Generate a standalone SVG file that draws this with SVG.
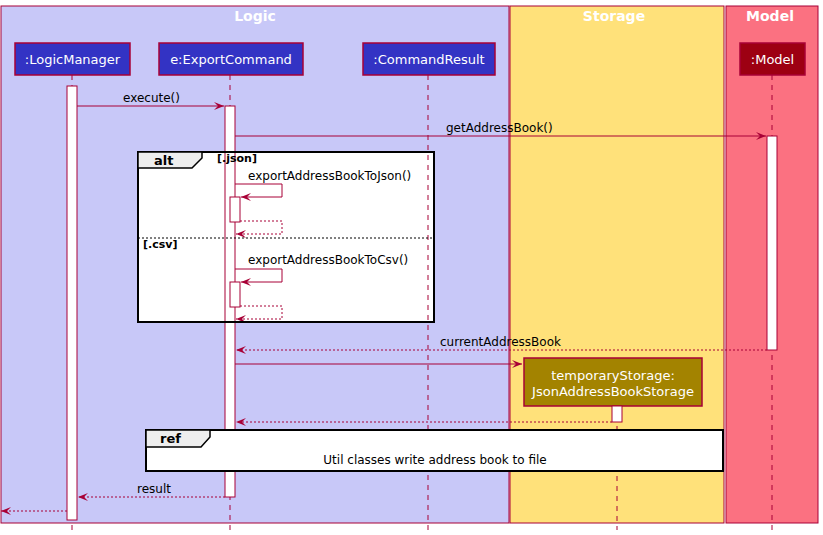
<svg xmlns="http://www.w3.org/2000/svg" width="823" height="535" viewBox="0 0 823 535">
<style>
text{font-family:"DejaVu Sans","Liberation Sans",sans-serif;}
.title{font-size:14px;font-weight:bold;fill:#ffffff;text-anchor:middle;}
.plabel{font-size:13px;fill:#ffffff;text-anchor:middle;}
.msg{font-size:12px;fill:#000000;}
.life{stroke:#A80036;stroke-width:1;stroke-dasharray:5,5;fill:none;}
.act{fill:#ffffff;stroke:#A80036;stroke-width:1;}
.line{stroke:#A80036;stroke-width:1;fill:none;}
.dash{stroke:#A80036;stroke-width:1;fill:none;stroke-dasharray:2,2;}
.frame{fill:none;stroke:#000000;stroke-width:2;}
.guard{font-size:11px;font-weight:bold;fill:#000000;}
.flabel{font-size:13px;font-weight:bold;fill:#000000;}
</style>
<defs>
<marker id="ah" markerUnits="userSpaceOnUse" markerWidth="12" markerHeight="10" refX="10" refY="4" orient="auto">
<path d="M0,0 L10,4 L0,8 L4,4 Z" fill="#A80036"/>
</marker>
</defs>
<g id="boxes">
<rect x="1" y="6" width="508" height="517" fill="#C8C8F8" stroke="#A80036" stroke-width="1"/>
<text class="title" x="255" y="21">Logic</text>
<rect x="510" y="6" width="214" height="517" fill="#FFE17A" stroke="#A80036" stroke-width="1"/>
<text class="title" x="614" y="21">Storage</text>
<rect x="726" y="6" width="92" height="517" fill="#FB7181" stroke="#A80036" stroke-width="1"/>
<text class="title" x="770" y="21">Model</text>
</g>
<rect id="alt-fill" x="138" y="152" width="296" height="170" fill="#ffffff"/>
<g id="lifelines">
<line class="life" x1="72" y1="75" x2="72" y2="530"/>
<line class="life" x1="230" y1="75" x2="230" y2="530"/>
<line class="life" x1="428" y1="75" x2="428" y2="530"/>
<line class="life" x1="617" y1="406" x2="617" y2="530"/>
<line class="life" x1="772" y1="75" x2="772" y2="530"/>
</g>
<g id="LogicManager">
<rect x="15" y="43" width="115" height="32" fill="#3333C4" stroke="#A80036" stroke-width="1.5"/>
<text class="plabel" x="72.5" y="64">:LogicManager</text>
<rect class="act" x="67" y="86" width="10" height="434"/>
</g>
<g id="ExportCommand">
<rect x="159" y="43" width="144" height="32" fill="#3333C4" stroke="#A80036" stroke-width="1.5"/>
<text class="plabel" x="231" y="64">e:ExportCommand</text>
<rect class="act" x="225" y="106" width="10" height="391"/>
<rect class="act" x="230" y="197" width="10" height="25"/>
<rect class="act" x="230" y="282" width="10" height="25"/>
</g>
<g id="CommandResult">
<rect x="363" y="43" width="132" height="32" fill="#3333C4" stroke="#A80036" stroke-width="1.5"/>
<text class="plabel" x="429" y="64">:CommandResult</text>
</g>
<g id="Model">
<rect x="740" y="43" width="65" height="32" fill="#9D0012" stroke="#A80036" stroke-width="1.5"/>
<text class="plabel" x="772.5" y="64">:Model</text>
<rect class="act" x="767" y="136" width="10" height="214"/>
</g>
<g id="temporaryStorage">
<rect x="524" y="358" width="178" height="48" fill="#A38300" stroke="#A80036" stroke-width="1.5"/>
<text class="plabel" x="613" y="380">temporaryStorage:</text>
<text class="plabel" x="613" y="396">JsonAddressBookStorage</text>
<rect class="act" x="612" y="406" width="10" height="16"/>
</g>
<g id="connectors">
<line class="line" x1="77" y1="106" x2="224" y2="106" marker-end="url(#ah)"/>
<text class="msg" x="123" y="102">execute()</text>
<line class="line" x1="235" y1="136" x2="766" y2="136" marker-end="url(#ah)"/>
<text class="msg" x="446" y="132">getAddressBook()</text>
<polyline class="line" points="235,184 282,184 282,197 241,197" marker-end="url(#ah)"/>
<text class="msg" x="248" y="180">exportAddressBookToJson()</text>
<polyline class="dash" points="240,221 282,221 282,234 236,234" marker-end="url(#ah)"/>
<polyline class="line" points="235,269 282,269 282,282 241,282" marker-end="url(#ah)"/>
<text class="msg" x="248" y="264">exportAddressBookToCsv()</text>
<polyline class="dash" points="240,306 282,306 282,319 236,319" marker-end="url(#ah)"/>
<line class="dash" x1="767" y1="350" x2="236" y2="350" marker-end="url(#ah)"/>
<text class="msg" x="440" y="346">currentAddressBook</text>
<line class="line" x1="235" y1="364" x2="522" y2="364" marker-end="url(#ah)"/>
<line class="dash" x1="612" y1="422" x2="236" y2="422" marker-end="url(#ah)"/>
<line class="dash" x1="225" y1="497" x2="78" y2="497" marker-end="url(#ah)"/>
<text class="msg" x="137" y="493">result</text>
<line class="dash" x1="67" y1="511" x2="1" y2="511" marker-end="url(#ah)"/>
</g>
<g id="alt">
<rect class="frame" x="138" y="152" width="296" height="170"/>
<path d="M138,152 L202,152 L202,158 L192,168 L138,168 Z" fill="#EEEEEE" stroke="#000000" stroke-width="1.5"/>
<text class="flabel" x="154" y="165">alt</text>
<text class="guard" x="217" y="162">[.json]</text>
<line x1="138" y1="238" x2="434" y2="238" stroke="#000000" stroke-width="1" stroke-dasharray="2,2"/>
<text class="guard" x="143" y="248">[.csv]</text>
</g>
<g id="ref">
<rect x="146" y="430" width="577" height="41" fill="#ffffff" stroke="#000000" stroke-width="2"/>
<path d="M146,430 L210,430 L210,437 L201,447 L146,447 Z" fill="#EEEEEE" stroke="#000000" stroke-width="1.5"/>
<text class="flabel" x="160" y="443">ref</text>
<text class="msg" x="435" y="464" text-anchor="middle">Util classes write address book to file</text>
</g>
</svg>
